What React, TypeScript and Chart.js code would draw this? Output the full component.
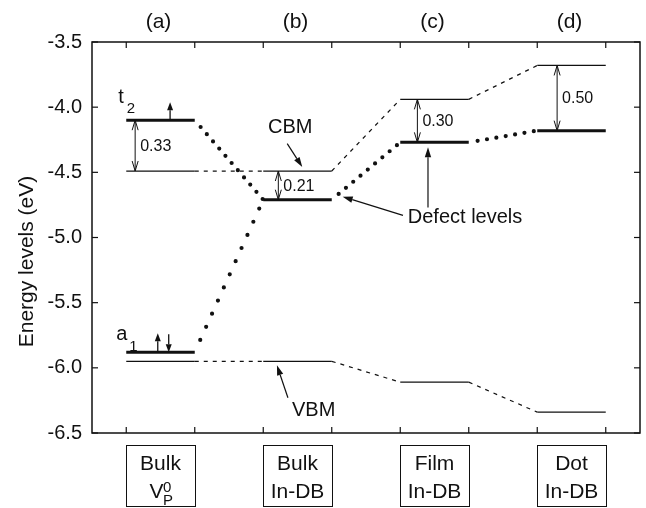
import { useEffect, useRef } from 'react';
import { Chart, registerables } from 'chart.js';
Chart.register(...registerables);

// ---- data ----
const panels = ['(a)', '(b)', '(c)', '(d)'];
const boxTop = ['Bulk', 'Bulk', 'Film', 'Dot'];
const boxBottom = ['V', 'In-DB', 'In-DB', 'In-DB'];
const centers = [1, 3, 5, 7];
const cbm = [-4.49, -4.49, -3.94, -3.68];
const vbm = [-5.95, -5.95, -6.11, -6.34];
const defect = [-4.1, -4.71, -4.27, -4.18]; // t2 in (a), defect levels in (b)-(d)
const a1Level = -5.88;
const gapLabels = ['0.33', '0.21', '0.30', '0.50'];
const gapX = [0.63, 2.72, 4.75, 6.79];
const yTitle = 'Energy levels (eV)';

const FONT = '"Liberation Sans", Arial, Helvetica, sans-serif';
const INK = '#111';

const steps = (vals: number[]) =>
  centers.flatMap((c, i) => [
    { x: c - 0.5, y: vals[i] },
    { x: c + 0.5, y: vals[i] },
  ]);

function line(ctx: CanvasRenderingContext2D, x1: number, y1: number, x2: number, y2: number) {
  ctx.beginPath();
  ctx.moveTo(x1, y1);
  ctx.lineTo(x2, y2);
  ctx.stroke();
}

function filledArrow(ctx: CanvasRenderingContext2D, x1: number, y1: number, x2: number, y2: number, hl = 10, hw = 3.2) {
  const ang = Math.atan2(y2 - y1, x2 - x1);
  const bx = x2 - hl * Math.cos(ang);
  const by = y2 - hl * Math.sin(ang);
  line(ctx, x1, y1, bx, by);
  ctx.beginPath();
  ctx.moveTo(x2, y2);
  ctx.lineTo(bx + hw * Math.sin(ang), by - hw * Math.cos(ang));
  ctx.lineTo(bx - hw * Math.sin(ang), by + hw * Math.cos(ang));
  ctx.closePath();
  ctx.fill();
}

function openHead(ctx: CanvasRenderingContext2D, x: number, y: number, dir: number, hl = 10, hw = 3) {
  // dir: -1 tip pointing up, +1 tip pointing down
  ctx.beginPath();
  ctx.moveTo(x - hw, y - dir * hl);
  ctx.lineTo(x, y);
  ctx.lineTo(x + hw, y - dir * hl);
  ctx.stroke();
}

function doubleArrow(ctx: CanvasRenderingContext2D, x: number, yTop: number, yBot: number) {
  line(ctx, x, yTop, x, yBot);
  openHead(ctx, x, yTop, -1);
  openHead(ctx, x, yBot, 1);
}

const annotPlugin = {
  id: 'annot',
  afterDatasetsDraw(chart: any) {
    const { ctx, chartArea: a, scales } = chart;
    const xs = scales.x;
    const ys = scales.y;
    const X = (v: number) => xs.getPixelForValue(v);
    const Y = (v: number) => ys.getPixelForValue(v);
    ctx.save();
    ctx.strokeStyle = INK;
    ctx.fillStyle = INK;

    // frame
    ctx.lineWidth = 1.5;
    ctx.strokeRect(a.left, a.top, a.right - a.left, a.bottom - a.top);

    // inward ticks
    ctx.lineWidth = 1.2;
    centers.forEach((c) =>
      [c - 0.5, c + 0.5].forEach((v) => {
        const px = X(v);
        line(ctx, px, a.top, px, a.top + 6);
        line(ctx, px, a.bottom, px, a.bottom - 6);
      })
    );
    ys.ticks.forEach((t: any) => {
      const py = Y(t.value);
      line(ctx, a.left, py, a.left + 6, py);
      line(ctx, a.right, py, a.right - 6, py);
    });

    // panel labels
    ctx.font = `21px ${FONT}`;
    ctx.textAlign = 'center';
    ctx.textBaseline = 'middle';
    centers.forEach((c, i) => ctx.fillText(panels[i], X(c) - 2, a.top - 20));

    // boxes
    ctx.lineWidth = 1;
    centers.forEach((c, i) => {
      const l = Math.round(X(c - 0.5)) + 0.5;
      const r = Math.round(X(c + 0.5)) + 0.5;
      ctx.strokeRect(l, a.bottom + 12.5, r - l, 61);
      ctx.font = `21px ${FONT}`;
      ctx.textAlign = 'center';
      ctx.textBaseline = 'alphabetic';
      ctx.fillText(boxTop[i], X(c), a.bottom + 37);
      if (i === 0) {
        ctx.textAlign = 'left';
        const vx = X(c) - 11;
        ctx.fillText(boxBottom[i], vx, a.bottom + 65);
        const vw = ctx.measureText(boxBottom[i]).width;
        ctx.font = `15px ${FONT}`;
        ctx.fillText('0', vx + vw - 0.5, a.bottom + 59);
        ctx.fillText('P', vx + vw - 0.5, a.bottom + 72);
      } else {
        ctx.fillText(boxBottom[i], X(c), a.bottom + 65);
      }
    });

    // y title
    ctx.save();
    ctx.translate(27, (a.top + a.bottom) / 2 + 24);
    ctx.rotate(-Math.PI / 2);
    ctx.font = `21px ${FONT}`;
    ctx.textAlign = 'center';
    ctx.textBaseline = 'middle';
    ctx.fillText(yTitle, 0, 0);
    ctx.restore();

    // t2 / a1 labels
    ctx.textAlign = 'left';
    ctx.textBaseline = 'alphabetic';
    ctx.font = `20px ${FONT}`;
    ctx.fillText('t', X(0.5) - 8, Y(defect[0]) - 17);
    ctx.fillText('a', X(0.5) - 10, Y(a1Level) - 12);
    ctx.font = `15px ${FONT}`;
    ctx.fillText('2', X(0.5) + 0.5, Y(defect[0]) - 7);
    ctx.fillText('1', X(0.5) + 3, Y(a1Level) - 1.5);

    // spin arrows
    ctx.lineWidth = 1.3;
    filledArrow(ctx, X(1.14), Y(defect[0]), X(1.14), Y(defect[0]) - 18, 8, 3);
    filledArrow(ctx, X(0.96), Y(a1Level), X(0.96), Y(a1Level) - 19, 8, 3);
    filledArrow(ctx, X(1.12), Y(a1Level) - 18, X(1.12), Y(a1Level), 8, 3);

    // gap double arrows + labels
    ctx.lineWidth = 1;
    ctx.font = `16px ${FONT}`;
    ctx.textBaseline = 'middle';
    ctx.textAlign = 'left';
    centers.forEach((c, i) => {
      const top = Y(Math.max(cbm[i], defect[i]));
      const bot = Y(Math.min(cbm[i], defect[i]));
      const px = X(gapX[i]);
      doubleArrow(ctx, px, top, bot);
      ctx.fillText(gapLabels[i], px + 5, (top + bot) / 2 + 1);
    });

    // CBM label + arrow
    ctx.font = `20px ${FONT}`;
    ctx.textBaseline = 'middle';
    ctx.fillText('CBM', X(2.57), Y(-4.154));
    ctx.lineWidth = 1.2;
    filledArrow(ctx, X(2.85), Y(-4.28), X(3.07), Y(cbm[1]) - 4);

    // Defect levels label + arrows
    ctx.fillText('Defect levels', X(4.61), Y(-4.846));
    filledArrow(ctx, X(4.54), Y(-4.83), X(3.66), Y(defect[1]) - 3);
    filledArrow(ctx, X(4.905), Y(-4.77), X(4.905), Y(defect[2]) + 5);

    // VBM label + arrow
    ctx.fillText('VBM', X(2.92), Y(-6.331));
    filledArrow(ctx, X(2.86), Y(-6.23), X(2.7), Y(vbm[1]) + 4);

    ctx.restore();
  },
};

export default function App() {
  const ref = useRef<HTMLCanvasElement | null>(null);
  useEffect(() => {
    if (!ref.current) return;
    const odd = (ctx: any) => ctx.p0DataIndex % 2 === 1;
    const chart = new Chart(ref.current, {
      type: 'scatter',
      data: {
        datasets: [
          {
            label: 'CBM',
            data: steps(cbm),
            showLine: true,
            borderColor: INK,
            borderWidth: 1.2,
            pointRadius: 0,
            segment: { borderDash: (ctx: any) => (odd(ctx) ? [4, 5] : undefined) },
          },
          {
            label: 'VBM',
            data: steps(vbm),
            showLine: true,
            borderColor: INK,
            borderWidth: 1.2,
            pointRadius: 0,
            segment: { borderDash: (ctx: any) => (odd(ctx) ? [4, 5] : undefined) },
          },
          {
            label: 'Defect (t2)',
            data: steps(defect),
            showLine: true,
            borderColor: INK,
            borderWidth: 3,
            pointRadius: 0,
            segment: {
              borderWidth: (ctx: any) => (odd(ctx) ? 4.2 : 3),
              borderDash: (ctx: any) => (odd(ctx) ? [0, 9.5] : undefined),
              borderDashOffset: (ctx: any) => (odd(ctx) ? 0.5 : 0),
              borderCapStyle: (ctx: any) => (odd(ctx) ? 'round' : 'butt'),
            },
          },
          {
            label: 'Defect (a1)',
            data: [
              { x: centers[0] - 0.5, y: a1Level },
              { x: centers[0] + 0.5, y: a1Level },
              { x: centers[1] - 0.5, y: defect[1] },
            ],
            showLine: true,
            borderColor: INK,
            borderWidth: 3,
            pointRadius: 0,
            segment: {
              borderWidth: (ctx: any) => (odd(ctx) ? 4.2 : 3),
              borderDash: (ctx: any) => (odd(ctx) ? [0, 14.4] : undefined),
              borderDashOffset: (ctx: any) => (odd(ctx) ? 1 : 0),
              borderCapStyle: (ctx: any) => (odd(ctx) ? 'round' : 'butt'),
            },
          },
        ],
      },
      options: {
        animation: false,
        responsive: false,
        layout: { padding: { top: 42, right: 6, bottom: 75, left: 0 } },
        plugins: { legend: { display: false }, tooltip: { enabled: false } },
        scales: {
          x: { type: 'linear', min: 0, max: 8, display: false },
          y: {
            type: 'linear',
            min: -6.5,
            max: -3.5,
            afterFit: (s: any) => {
              s.width = 92;
            },
            grid: { display: false, drawTicks: false },
            border: { display: false },
            ticks: {
              stepSize: 0.5,
              autoSkip: false,
              padding: 10,
              color: INK,
              font: { family: FONT, size: 20 },
              callback: (v: any) => Number(v).toFixed(1),
            },
          },
        },
      },
      plugins: [annotPlugin],
    } as any);
    return () => chart.destroy();
  }, []);
  return (
    <div style={{ position: 'absolute', left: 0, top: 0, width: 646, height: 508, background: '#fff' }}>
      <canvas ref={ref} width={646} height={508} />
    </div>
  );
}
